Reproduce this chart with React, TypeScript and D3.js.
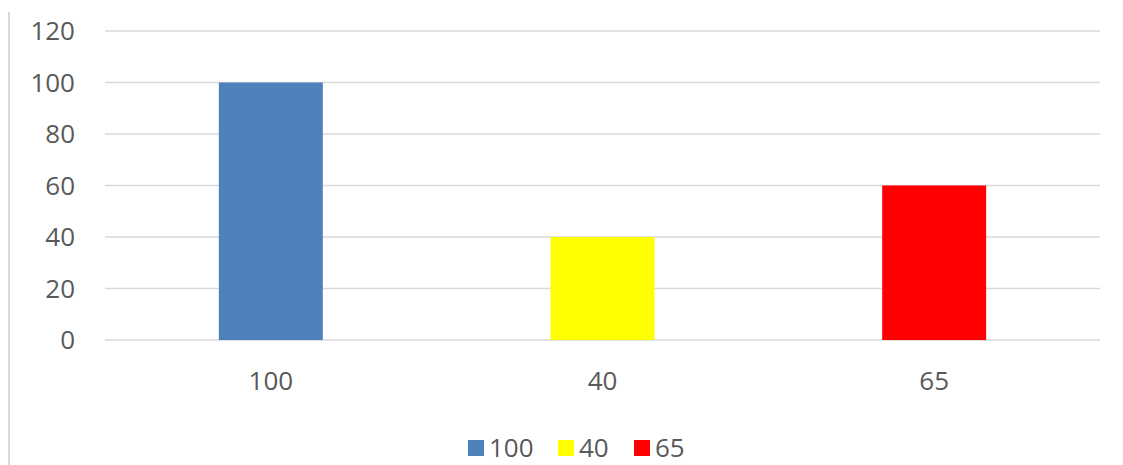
import * as d3 from "d3";
import React from "react";

// chart data
const categories = ["100", "40", "65"];
const values = [100, 40, 60];
const colors = ["#4f81bd", "#ffff00", "#ff0000"];
const yTicks = [0, 20, 40, 60, 80, 100, 120];

export default function App() {
  const WIDTH = 1123;
  const HEIGHT = 465;
  const margin = { top: 31, right: 23, bottom: 125, left: 105 };
  const chartWidth = WIDTH - margin.left - margin.right;
  const chartHeight = HEIGHT - margin.top - margin.bottom;

  const xScale = d3
    .scaleBand()
    .domain(categories)
    .range([0, chartWidth])
    .padding(0);

  const yScale = d3.scaleLinear().domain([0, 120]).range([chartHeight, 0]);

  // excel style gap width ~219%
  const barWidth = xScale.bandwidth() / 3.19;
  const font = "'Open Sans', 'Liberation Sans', sans-serif";

  // legend layout
  const legendY = 448;
  const legendItems = [
    { x: 468, label: categories[0], color: colors[0] },
    { x: 558, label: categories[1], color: colors[1] },
    { x: 634, label: categories[2], color: colors[2] },
  ];

  return (
    <svg
      width={WIDTH}
      height={HEIGHT}
      style={{ position: "absolute", left: 0, top: 0, background: "#fff" }}
    >
      {/* left frame line */}
      <line x1={9} x2={9} y1={12} y2={HEIGHT} stroke="#d9d9d9" strokeWidth={2} />

      <g transform={`translate(${margin.left},${margin.top})`}>
        {/* grid + y labels */}
        {yTicks.map((d, i) => {
          let y = yScale(d);
          return (
            <g key={i}>
              <line x1={0} x2={chartWidth} y1={y} y2={y} stroke="#d9d9d9" strokeWidth={1.5} />
              <text
                x={-30}
                y={y}
                dy="0.35em"
                fontSize={26}
                fontFamily={font}
                textAnchor="end"
                fill="#595959"
              >
                {d}
              </text>
            </g>
          );
        })}

        {/* bars */}
        {categories.map((c, i) => {
          let cx = xScale(c) + xScale.bandwidth() / 2;
          return (
            <rect
              key={i}
              x={cx - barWidth / 2}
              y={yScale(values[i])}
              width={barWidth}
              height={yScale(0) - yScale(values[i])}
              fill={colors[i]}
            />
          );
        })}

        {/* x labels */}
        {categories.map((c, i) => (
          <text
            key={i}
            x={xScale(c) + xScale.bandwidth() / 2}
            y={chartHeight + 41}
            dy="0.35em"
            fontSize={26}
            fontFamily={font}
            textAnchor="middle"
            fill="#595959"
          >
            {c}
          </text>
        ))}
      </g>

      {/* legend */}
      {legendItems.map((d, i) => (
        <g key={i}>
          <rect x={d.x} y={legendY - 8} width={16} height={16} fill={d.color} />
          <text
            x={d.x + 21}
            y={legendY}
            dy="0.35em"
            fontSize={26}
            fontFamily={font}
            fill="#595959"
          >
            {d.label}
          </text>
        </g>
      ))}
    </svg>
  );
}
